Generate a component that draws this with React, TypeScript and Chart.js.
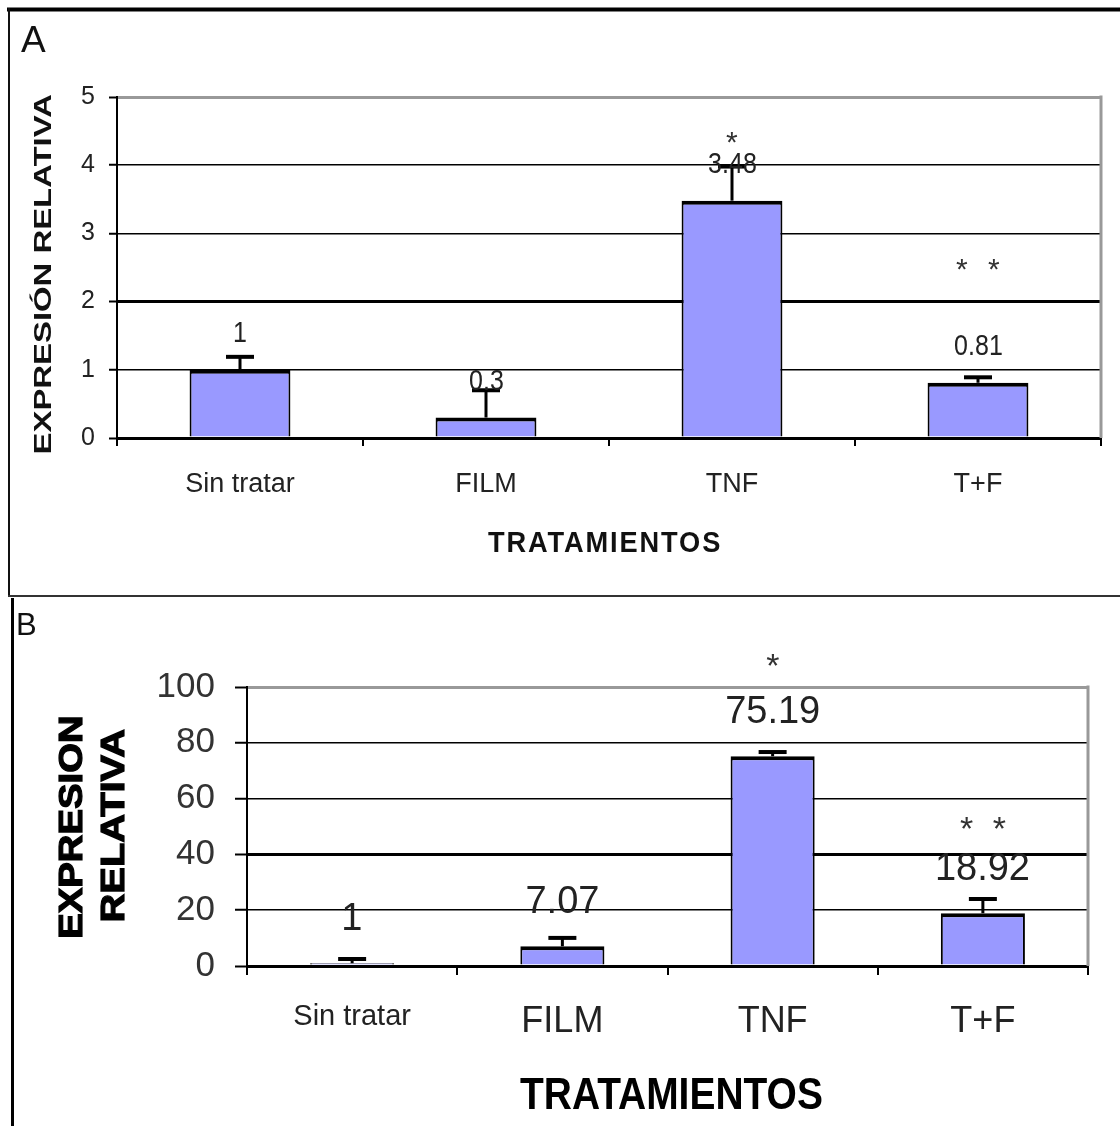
import React, { useEffect, useRef } from "react";
import { Chart, registerables } from "chart.js";

Chart.register(...registerables);

// ---------- data ----------
const categories = ["Sin tratar", "FILM", "TNF", "T+F"];

const ticksA = [0, 1, 2, 3, 4, 5];
const valuesA = [1, 0.3, 3.48, 0.81];
const errorsA = [0.19, 0.4, 0.5, 0.08];
const valueLabelsA = ["1", "0.3", "3.48", "0.81"];
const starsA = ["", "", "*", "* *"];
const starLevelsA = [0, 0, 4.4, 2.54];

const ticksB = [0, 20, 40, 60, 80, 100];
const valuesB = [1, 7.07, 75.19, 18.92];
const errorsB = [1.5, 3, 1.5, 5.1];
const valueLabelsB = ["1", "7.07", "75.19", "18.92"];
const starsB = ["", "", "*", "* *"];
const starLevelsB = [0, 0, 109.5, 51.2];

const FAMILY = "'Liberation Sans', Arial, Helvetica, sans-serif";

type TextOpts = {
  width?: number;
  scaleY?: number;
  rotate?: boolean;
  spacing?: number;
  stroke?: number;
};

function drawText(
  ctx: CanvasRenderingContext2D,
  text: string,
  cx: number,
  cy: number,
  font: string,
  color: string,
  opts: TextOpts = {}
) {
  ctx.save();
  ctx.font = font;
  ctx.fillStyle = color;
  ctx.strokeStyle = color;
  (ctx as any).letterSpacing = (opts.spacing || 0) + "px";
  ctx.textAlign = "left";
  ctx.textBaseline = "alphabetic";
  const m = ctx.measureText(text);
  const w = m.actualBoundingBoxLeft + m.actualBoundingBoxRight;
  const sx = opts.width ? opts.width / w : 1;
  const sy = opts.scaleY || 1;
  ctx.translate(cx, cy);
  if (opts.rotate) ctx.rotate(-Math.PI / 2);
  ctx.scale(sx, sy);
  const x0 = -(m.actualBoundingBoxRight - m.actualBoundingBoxLeft) / 2;
  const y0 = (m.actualBoundingBoxAscent - m.actualBoundingBoxDescent) / 2;
  ctx.fillText(text, x0, y0);
  if (opts.stroke) {
    ctx.lineWidth = opts.stroke;
    ctx.strokeText(text, x0, y0);
  }
  ctx.restore();
}

function line(
  ctx: CanvasRenderingContext2D,
  x1: number,
  y1: number,
  x2: number,
  y2: number,
  w: number,
  color: string
) {
  ctx.save();
  ctx.strokeStyle = color;
  ctx.lineWidth = w;
  ctx.beginPath();
  ctx.moveTo(x1, y1);
  ctx.lineTo(x2, y2);
  ctx.stroke();
  ctx.restore();
}

type Spec = {
  id: string;
  height: number;
  padTop: number;
  padRight: number;
  yAxisWidth: number;
  xAxisHeight: number;
  max: number;
  ticks: number[];
  values: number[];
  errors: number[];
  labels: string[];
  stars: string[];
  starLevels: number[];
  thickValue: number;
  barPct: number;
  yTickFont: number;
  yTickLen: number;
  yTickPad: number;
  yTickColor: string;
  xTickLen: number;
  xTickPad: number;
  xFont: (i: number) => number;
  labelFont: number;
  labelOffset: number;
  labelScaleY: number;
  capHalf: number;
  errLine: number;
  capLine: number;
  starFont: number;
  starSpacing: number;
  decorate: (ctx: CanvasRenderingContext2D) => void;
};

const specA: Spec = {
  id: "A",
  height: 598,
  padTop: 97,
  padRight: 19,
  yAxisWidth: 117,
  xAxisHeight: 160,
  max: 5,
  ticks: ticksA,
  values: valuesA,
  errors: errorsA,
  labels: valueLabelsA,
  stars: starsA,
  starLevels: starLevelsA,
  thickValue: 2,
  barPct: 0.41,
  yTickFont: 25,
  yTickLen: 8,
  yTickPad: 14,
  yTickColor: "#222",
  xTickLen: 8,
  xTickPad: 22,
  xFont: () => 27,
  labelFont: 25,
  labelOffset: 38,
  labelScaleY: 1.15,
  capHalf: 14,
  errLine: 3,
  capLine: 4,
  starFont: 30,
  starSpacing: 6,
  decorate: (ctx) => {
    line(ctx, 7, 9.5, 1120, 9.5, 4, "#000");
    line(ctx, 9, 8, 9, 597, 2, "#111");
    line(ctx, 8, 596, 1120, 596, 2, "#333");
    drawText(ctx, "A", 33.5, 38.5, `37px ${FAMILY}`, "#111");
    drawText(ctx, "EXPRESIÓN RELATIVA", 40, 274, `bold 23px ${FAMILY}`, "#111", {
      rotate: true,
      width: 358,
    });
    drawText(ctx, "TRATAMIENTOS", 604, 542, `bold 29px ${FAMILY}`, "#111", {
      width: 232,
      spacing: 2,
    });
  },
};

const specB: Spec = {
  id: "B",
  height: 528,
  padTop: 89,
  padRight: 32,
  yAxisWidth: 247,
  xAxisHeight: 160,
  max: 100,
  ticks: ticksB,
  values: valuesB,
  errors: errorsB,
  labels: valueLabelsB,
  stars: starsB,
  starLevels: starLevelsB,
  thickValue: 40,
  barPct: 0.4,
  yTickFont: 35,
  yTickLen: 12,
  yTickPad: 20,
  yTickColor: "#333",
  xTickLen: 9,
  xTickPad: 25,
  xFont: (i) => (i === 0 ? 29 : 36),
  labelFont: 38,
  labelOffset: 47,
  labelScaleY: 1,
  capHalf: 14,
  errLine: 3,
  capLine: 4,
  starFont: 34,
  starSpacing: 5,
  decorate: (ctx) => {
    line(ctx, 12.5, 0, 12.5, 528, 3, "#000");
    drawText(ctx, "B", 27, 26, `31px ${FAMILY}`, "#111");
    drawText(ctx, "EXPRESION", 70, 229, `bold 33px ${FAMILY}`, "#000", {
      rotate: true,
      width: 219,
      stroke: 1.2,
    });
    drawText(ctx, "RELATIVA", 112.5, 227, `bold 33px ${FAMILY}`, "#000", {
      rotate: true,
      width: 190,
      stroke: 1.2,
    });
    drawText(ctx, "TRATAMIENTOS", 671, 495, `bold 45px ${FAMILY}`, "#000", {
      width: 302,
    });
  },
};

function makeConfig(spec: Spec): any {
  const decor = {
    id: "decor" + spec.id,
    afterDatasetsDraw(chart: any) {
      const ctx: CanvasRenderingContext2D = chart.ctx;
      const xs = chart.scales.x;
      const ys = chart.scales.y;
      spec.values.forEach((v, i) => {
        const cx = xs.getPixelForValue(i);
        const y0 = ys.getPixelForValue(v);
        const y1 = ys.getPixelForValue(v + spec.errors[i]);
        line(ctx, cx, y0, cx, y1, spec.errLine, "#000");
        line(ctx, cx - spec.capHalf, y1, cx + spec.capHalf, y1, spec.capLine, "#000");
      });
    },
    afterDraw(chart: any) {
      const ctx: CanvasRenderingContext2D = chart.ctx;
      const xs = chart.scales.x;
      const ys = chart.scales.y;
      const area = chart.chartArea;
      line(ctx, area.right, area.top - 1.5, area.right, area.bottom, 3, "#999");
      spec.values.forEach((v, i) => {
        const cx = xs.getPixelForValue(i);
        const cy = ys.getPixelForValue(v) - spec.labelOffset;
        drawText(ctx, spec.labels[i], cx, cy, `${spec.labelFont}px ${FAMILY}`, "#222", {
          scaleY: spec.labelScaleY,
        });
        if (spec.stars[i]) {
          const sy = ys.getPixelForValue(spec.starLevels[i]);
          drawText(ctx, spec.stars[i], cx, sy, `${spec.starFont}px ${FAMILY}`, "#333", {
            spacing: spec.starSpacing,
          });
        }
      });
      spec.decorate(ctx);
    },
  };

  return {
    type: "bar",
    data: {
      labels: categories,
      datasets: [
        {
          data: spec.values,
          backgroundColor: "#9999FF",
          borderColor: "#000",
          borderWidth: { top: 4, left: 2, right: 2, bottom: 0 },
          borderSkipped: "bottom",
          barPercentage: spec.barPct,
          categoryPercentage: 1,
        },
      ],
    },
    options: {
      responsive: false,
      animation: false,
      devicePixelRatio: 1,
      layout: {
        padding: { left: 0, top: spec.padTop, right: spec.padRight, bottom: 0 },
      },
      plugins: {
        legend: { display: false },
        tooltip: { enabled: false },
        title: { display: false },
      },
      scales: {
        x: {
          type: "category",
          grid: {
            display: true,
            drawOnChartArea: false,
            drawTicks: true,
            tickLength: spec.xTickLen,
            color: "#000",
            lineWidth: 2,
            offset: true,
          },
          border: { display: true, color: "#000", width: 3 },
          ticks: {
            color: "#222",
            autoSkip: false,
            maxRotation: 0,
            minRotation: 0,
            padding: spec.xTickPad,
            font: (c: any) => ({ family: FAMILY, size: spec.xFont(c.index) }),
          },
          afterFit: (s: any) => {
            s.height = spec.xAxisHeight;
          },
        },
        y: {
          min: 0,
          max: spec.max,
          afterBuildTicks: (s: any) => {
            s.ticks = spec.ticks.map((v) => ({ value: v }));
          },
          grid: {
            drawTicks: true,
            tickLength: spec.yTickLen,
            tickColor: "#000",
            tickWidth: 2,
            color: (c: any) =>
              c.tick && c.tick.value === spec.max ? "#999" : "#000",
            lineWidth: (c: any) => {
              const v = c.tick ? c.tick.value : -1;
              if (v === spec.max || v === spec.thickValue || v === 0) return 3;
              return 1.5;
            },
          },
          border: { display: true, color: "#000", width: 2 },
          ticks: {
            color: spec.yTickColor,
            padding: spec.yTickPad,
            font: { family: FAMILY, size: spec.yTickFont },
          },
          afterFit: (s: any) => {
            s.width = spec.yAxisWidth;
          },
        },
      },
    },
    plugins: [decor],
  };
}

function Panel({ spec, top }: { spec: Spec; top: number }) {
  const ref = useRef<HTMLCanvasElement>(null);
  useEffect(() => {
    if (!ref.current) return;
    const chart = new Chart(ref.current, makeConfig(spec));
    return () => chart.destroy();
  }, [spec]);
  return (
    <canvas
      ref={ref}
      width={1120}
      height={spec.height}
      style={{
        position: "absolute",
        left: 0,
        top,
        width: 1120,
        height: spec.height,
        display: "block",
      }}
    />
  );
}

export default function App() {
  return (
    <div
      style={{
        position: "fixed",
        left: 0,
        top: 0,
        width: 1120,
        height: 1126,
        background: "#fff",
        overflow: "hidden",
      }}
    >
      <Panel spec={specA} top={0} />
      <Panel spec={specB} top={598} />
    </div>
  );
}
